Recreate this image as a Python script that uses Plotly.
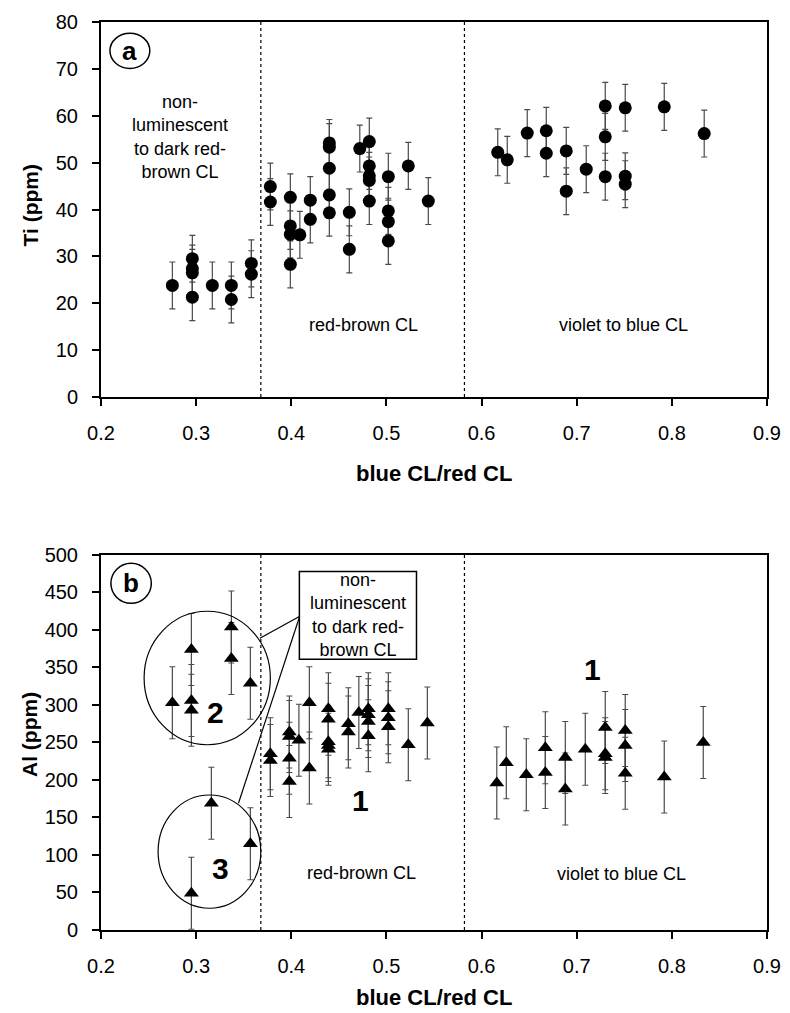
import plotly.graph_objects as go

# ---------------- data ----------------
# Panel a: Ti (ppm) vs blue CL/red CL
ti_x = [0.275, 0.296, 0.296, 0.296, 0.296, 0.317, 0.337, 0.337, 0.358, 0.358,
        0.378, 0.378, 0.399, 0.399, 0.399, 0.399, 0.409, 0.420, 0.420,
        0.440, 0.440, 0.440, 0.440, 0.440, 0.461, 0.461, 0.472,
        0.482, 0.482, 0.482, 0.482, 0.482, 0.502, 0.502, 0.502, 0.502,
        0.523, 0.544,
        0.617, 0.627, 0.648, 0.668, 0.668, 0.689, 0.689, 0.710,
        0.730, 0.730, 0.730, 0.751, 0.751, 0.751, 0.792, 0.834]
ti_y = [23.8, 29.5, 27.4, 26.5, 21.3, 23.8, 23.8, 20.8, 28.5, 26.2,
        44.9, 41.6, 42.6, 36.5, 34.7, 28.3, 34.6, 42.0, 37.9,
        54.2, 53.3, 48.8, 43.1, 39.3, 39.4, 31.5, 53.0,
        54.5, 49.3, 47.2, 46.2, 41.8, 47.0, 39.7, 37.4, 33.3,
        49.3, 41.8,
        52.2, 50.6, 56.3, 56.8, 52.0, 52.5, 43.9, 48.6,
        62.1, 55.5, 47.0, 61.7, 47.1, 45.4, 61.9, 56.2]
ti_err = [5, 5, 5, 5, 5, 5, 5, 5, 5, 5,
          5, 5, 5, 5, 5, 5, 5, 5, 5,
          5, 5, 5, 5, 5, 5, 5, 5,
          5, 5, 5, 5, 5, 5, 5, 5, 5,
          5, 5,
          5, 5, 5, 5, 5, 5, 5, 5,
          5, 5, 5, 5, 5, 5, 5, 5]

# Panel b: Al (ppm) vs blue CL/red CL
al_x = [0.275, 0.295, 0.295, 0.295, 0.295, 0.316, 0.337, 0.337, 0.357, 0.357,
        0.378, 0.378, 0.398, 0.398, 0.398, 0.398, 0.408, 0.419, 0.419,
        0.439, 0.439, 0.439, 0.439, 0.439, 0.460, 0.460, 0.471,
        0.481, 0.481, 0.481, 0.481, 0.502, 0.502, 0.502, 0.523, 0.543,
        0.616, 0.626, 0.647, 0.667, 0.667, 0.688, 0.688, 0.709,
        0.730, 0.730, 0.730, 0.751, 0.751, 0.751, 0.792, 0.833]
al_y = [303, 374, 306, 293, 49, 169, 404, 362, 329, 115,
        235, 226, 264, 258, 229, 198, 253, 303, 216,
        295, 281, 251, 246, 241, 275, 264, 290,
        295, 287, 278, 259, 295, 283, 271, 247, 276,
        196, 223, 207, 243, 210, 230, 188, 241,
        270, 235, 230, 266, 246, 209, 204, 250]
al_err = [48, 48, 48, 48, 48, 48, 48, 48, 48, 48,
          48, 48, 48, 48, 48, 48, 48, 48, 48,
          48, 48, 48, 48, 48, 48, 48, 48,
          48, 48, 48, 48, 48, 48, 48, 48, 48,
          48, 48, 48, 48, 48, 48, 48, 48,
          48, 48, 48, 48, 48, 48, 48, 48]

x_ticks = [0.2, 0.3, 0.4, 0.5, 0.6, 0.7, 0.8, 0.9]
boundaries = [0.368, 0.582]

FONT = "Liberation Sans, Arial, sans-serif"

fig = go.Figure()

fig.add_trace(go.Scatter(
    x=ti_x, y=ti_y, mode="markers", xaxis="x", yaxis="y",
    marker=dict(symbol="circle", size=13, color="black"),
    error_y=dict(type="data", array=ti_err, visible=True,
                 color="#4a4a4a", thickness=1.2, width=3),
    showlegend=False))

fig.add_trace(go.Scatter(
    x=al_x, y=al_y, mode="markers", xaxis="x2", yaxis="y2",
    marker=dict(symbol="triangle-up", size=13, color="black"),
    error_y=dict(type="data", array=al_err, visible=True,
                 color="#4a4a4a", thickness=1.2, width=3),
    showlegend=False))

axis_common = dict(
    range=[0.2, 0.9], tickvals=x_ticks, tickformat=".1f",
    showline=True, linecolor="black", linewidth=2, mirror=True,
    ticks="outside", ticklen=7, tickwidth=1.5, tickcolor="black",
    showgrid=False, zeroline=False, automargin=False,
    tickfont=dict(family=FONT, size=20, color="black"),
    ticklabelstandoff=10,
)
yaxis_common = dict(
    showline=True, linecolor="black", linewidth=2, mirror=True,
    ticks="outside", ticklen=7, tickwidth=1.5, tickcolor="black",
    showgrid=False, zeroline=False, automargin=False,
    tickfont=dict(family=FONT, size=20, color="black"),
    ticklabelstandoff=10,
)

shapes = []
for xref, yref in (("x", "y"), ("x2", "y2")):
    for b in boundaries:
        shapes.append(dict(type="line", xref=xref, yref=yref + " domain",
                           x0=b, x1=b, y0=0, y1=1,
                           line=dict(color="black", width=1.2, dash="dot")))

# circled panel letters
shapes.append(dict(type="circle", xref="x", yref="y", x0=0.2094, x1=0.2513,
                   y0=70.1, y1=77.6, line=dict(color="black", width=1.5)))
shapes.append(dict(type="circle", xref="x2", yref="y2", x0=0.2104, x1=0.2529,
                   y0=435.6, y1=488.9, line=dict(color="black", width=1.5)))
# group circles in panel b
shapes.append(dict(type="circle", xref="x2", yref="y2", x0=0.2453, x1=0.378,
                   y0=247, y1=425, line=dict(color="black", width=1.2)))
shapes.append(dict(type="circle", xref="x2", yref="y2", x0=0.260, x1=0.368,
                   y0=29, y1=180, line=dict(color="black", width=1.2)))
# callout box and leader lines
shapes.append(dict(type="rect", xref="x2", yref="y2", x0=0.4085, x1=0.5316,
                   y0=361, y1=478, fillcolor="white",
                   line=dict(color="black", width=1.5)))
shapes.append(dict(type="line", xref="x2", yref="y2", x0=0.4085, y0=418,
                   x1=0.367, y1=389, line=dict(color="black", width=1.2)))
shapes.append(dict(type="line", xref="x2", yref="y2", x0=0.4085, y0=417,
                   x1=0.3445, y1=169, line=dict(color="black", width=1.2)))

region_font = dict(family=FONT, size=18, color="black")
big_font = dict(family=FONT, size=30, color="black")
title_font_x = dict(family=FONT, size=22, color="black")
title_font_y = dict(family=FONT, size=21, color="black")
C = dict(xanchor="center", yanchor="middle", showarrow=False)
ann = [
    dict(x=0.2304, y=73.9, xref="x", yref="y", text="<b>a</b>",
         font=dict(family=FONT, size=26, color="black"), **C),
    dict(x=0.2316, y=462, xref="x2", yref="y2", text="<b>b</b>",
         font=dict(family=FONT, size=26, color="black"), **C),
    dict(x=0.2827, y=55.4, xref="x", yref="y",
         text="non-<br>luminescent<br>to dark red-<br>brown CL",
         font=region_font, **C),
    dict(x=0.4754, y=15.4, xref="x", yref="y", text="red-brown CL",
         font=region_font, **C),
    dict(x=0.7487, y=15.4, xref="x", yref="y", text="violet to blue CL",
         font=region_font, **C),
    dict(x=0.470, y=420, xref="x2", yref="y2",
         text="non-<br>luminescent<br>to dark red-<br>brown CL",
         font=region_font, **C),
    dict(x=0.4735, y=75.6, xref="x2", yref="y2", text="red-brown CL",
         font=region_font, **C),
    dict(x=0.7467, y=74, xref="x2", yref="y2", text="violet to blue CL",
         font=region_font, **C),
    dict(x=0.473, y=173, xref="x2", yref="y2", text="<b>1</b>",
         font=big_font, **C),
    dict(x=0.717, y=347, xref="x2", yref="y2", text="<b>1</b>",
         font=big_font, **C),
    dict(x=0.3205, y=290, xref="x2", yref="y2", text="<b>2</b>",
         font=big_font, **C),
    dict(x=0.326, y=82, xref="x2", yref="y2", text="<b>3</b>",
         font=big_font, **C),
    # axis titles
    dict(x=0.5, y=0.5033, xref="paper", yref="paper", text="<b>blue CL/red CL</b>",
         font=title_font_x, **C),
    dict(x=0.5, y=-0.0738, xref="paper", yref="paper", text="<b>blue CL/red CL</b>",
         font=title_font_x, **C),
    dict(x=-0.1066, y=0.798, xref="paper", yref="paper", text="<b>Ti (ppm)</b>",
         textangle=-90, font=title_font_y, **C),
    dict(x=-0.1066, y=0.2148, xref="paper", yref="paper", text="<b>Al (ppm)</b>",
         textangle=-90, font=title_font_y, **C),
]

# the page body adds an 8 px offset, so margins are reduced by 8 on left/top
fig.update_layout(
    width=790, height=1013,
    margin=dict(l=93, r=31, t=14, b=91, autoexpand=False),
    paper_bgcolor="white", plot_bgcolor="white",
    font=dict(family=FONT, color="black"),
    xaxis=dict(domain=[0, 1], anchor="y", **axis_common),
    yaxis=dict(domain=[0.587, 1], anchor="x", range=[0, 80], dtick=10, **yaxis_common),
    xaxis2=dict(domain=[0, 1], anchor="y2", **axis_common),
    yaxis2=dict(domain=[0, 0.413], anchor="x2", range=[0, 500], dtick=50, **yaxis_common),
    shapes=shapes,
    annotations=ann,
    showlegend=False,
)

fig.write_html("out.html")
